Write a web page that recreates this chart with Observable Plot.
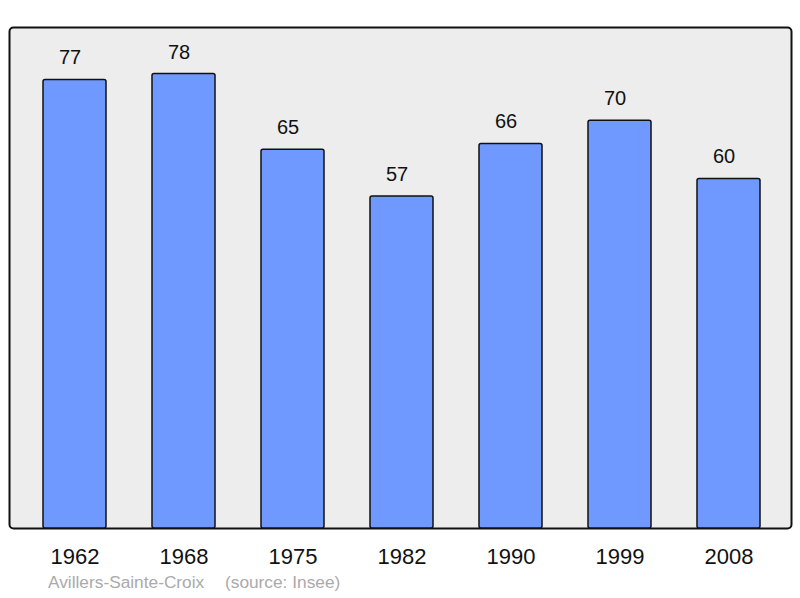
<!DOCTYPE html>
<html>
<head>
<meta charset="utf-8">
<script src="https://cdn.jsdelivr.net/npm/d3@7"></script>
<script src="https://cdn.jsdelivr.net/npm/@observablehq/plot@0.6"></script>
<style>
  body { margin: 0; background: #fff; font-family: "Liberation Sans", Arial, sans-serif; }
  #caption { position: relative; height: 26px; color: #aaaaaa; font-size: 17.3px; }
  #caption span { position: absolute; top: 0; white-space: nowrap; }
</style>
</head>
<body>
<div id="chart"></div>
<div id="caption"><span style="left:48px">Avillers-Sainte-Croix</span><span style="left:225px">(source: Insee)</span></div>
<script>
const years = ["1962", "1968", "1975", "1982", "1990", "1999", "2008"];
const population = [77, 78, 65, 57, 66, 70, 60];
const data = years.map((y, i) => ({year: y, value: population[i]}));

const chart = Plot.plot({
  width: 800,
  height: 572,
  marginTop: 27,
  marginBottom: 44,
  marginLeft: 9,
  marginRight: 9,
  style: {fontFamily: "Liberation Sans, Arial, sans-serif", background: "#fff"},
  x: {domain: years, paddingInner: 0.424, paddingOuter: 0.286, align: 0.52, label: null},
  y: {domain: [0, 86], axis: null},
  marks: [
    Plot.frame({fill: "#ededed", stroke: "#111", strokeWidth: 2, rx: 4}),
    Plot.barY(data, {x: "year", y: "value", fill: "#7099ff", stroke: "#111", strokeWidth: 1.5, rx: 2}),
    Plot.text(data, {x: "year", y: "value", text: d => String(d.value), dy: -22, dx: -5, fontSize: 20, fill: "#111"}),
    Plot.axisX({tickSize: 0, tickPadding: 20, fontSize: 22, fill: "#111", label: null})
  ]
});
document.getElementById("chart").appendChild(chart);
</script>
</body>
</html>
